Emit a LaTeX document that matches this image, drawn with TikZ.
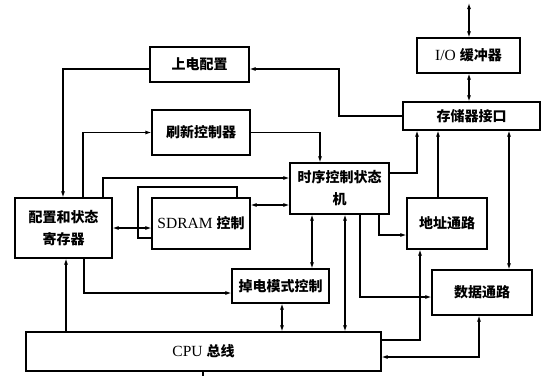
\documentclass[tikz,border=0pt]{standalone}
\usepackage{fontspec}
\setmainfont{Liberation Serif}
\newfontfamily\cjkfnt{Noto Sans CJK SC}
\usetikzlibrary{arrows.meta}
\newcommand\myzh[1]{{\fontsize{14}{22}\selectfont\cjkfnt\bfseries #1}}
\tikzset{
  box/.style={draw, line width=1.1pt, inner sep=0pt, align=center, font=\fontsize{15.5}{22}\selectfont},
  conn/.style={line width=1.1pt},
  arr/.style={conn, -{Latex[length=6pt,width=4pt]}},
  darr/.style={conn, {Latex[length=6pt,width=4pt]}-{Latex[length=6pt,width=4pt]}}
}
\begin{document}
\begin{tikzpicture}[x=1pt,y=-1pt]
\useasboundingbox (0,0) rectangle (547,376);
% boxes
\node[box, minimum width=99pt, minimum height=35pt] (pw) at (199.5,64.5) {\myzh{上电配置}};
\node[box, minimum width=98pt, minimum height=45pt] (sx) at (201,132.5) {\myzh{刷新控制器}};
\node[box, minimum width=103pt, minimum height=35pt] (io) at (468.5,55.5) {I/O \myzh{缓冲器}};
\node[box, minimum width=137pt, minimum height=28pt] (mi) at (471.5,116) {\myzh{存储器接口}};
\node[box, minimum width=99pt, minimum height=51pt] (ts) at (339.5,188.5) {\myzh{时序控制状态}\\\myzh{机}};
\node[box, minimum width=97pt, minimum height=60pt] (cfg) at (63.5,228) {\myzh{配置和状态}\\\myzh{寄存器}};
\node[box, minimum width=98pt, minimum height=51pt] (sd) at (201,223.5) {SDRAM \myzh{控制}};
\draw[conn] (sd.west |- 0,238) -- (138,238) -- (138,187) -- (237,187) -- (sd.north -| 237,0);
\node[box, minimum width=97pt, minimum height=34pt] (pd) at (280.5,286) {\myzh{掉电模式控制}};
\node[box, minimum width=80pt, minimum height=51pt] (ad) at (447,223.5) {\myzh{地址通路}};
\node[box, minimum width=100pt, minimum height=45pt] (dt) at (482,292.5) {\myzh{数据通路}};
\node[box, minimum width=355pt, minimum height=39pt] (cpu) at (203.5,351.5) {CPU \myzh{总线}};
\coordinate (topend) at (469,3);
\coordinate (botend) at (203,376);
% connectors
\draw[darr] (topend) -- (io.north -| topend);
\draw[darr] (io.south -| 469,0) -- (mi.north -| 469,0);
\draw[arr] (mi.west) -- (339,116) -- (339,69) -- (pw.east |- 0,69);
\draw[arr] (pw.west |- 0,69) -- (63,69) -- (cfg.north -| 63,0);
\draw[arr] (cfg.north -| 83,0) -- (83,132.5) -- (sx.west);
\draw[arr] (sx.east) -- (320,132.5) -- (ts.north -| 320,0);
\draw[arr] (cfg.north -| 103,0) -- (103,178) -- (ts.west |- 0,178);
\draw[darr] (cfg.east |- 0,228) -- (sd.west |- 0,228);
\draw[darr] (sd.east |- 0,205) -- (ts.west |- 0,205);
\draw[arr] (cfg.south -| 84,0) -- (84,293) -- (pd.west |- 0,293);
\draw[arr] (cpu.north -| 66,0) -- (cfg.south -| 66,0);
\draw[darr] (ts.south -| 312,0) -- (pd.north -| 312,0);
\draw[darr] (ts.south -| 345,0) -- (cpu.north -| 345,0);
\draw[darr] (pd.south -| 282,0) -- (cpu.north -| 282,0);
\draw[arr] (ts.south -| 360,0) -- (360,297) -- (dt.west |- 0,297);
\draw[arr] (ts.south -| 379,0) -- (379,235) -- (ad.west |- 0,235);
\draw[arr] (ts.east |- 0,173) -- (417,173) -- (mi.south -| 417,0);
\draw[arr] (ad.north -| 438,0) -- (mi.south -| 438,0);
\draw[darr] (mi.south -| 509,0) -- (dt.north -| 509,0);
\draw[arr] (cpu.east |- 0,340) -- (420,340) -- (ad.south -| 420,0);
\draw[darr] (dt.south -| 479,0) -- (479,357) -- (cpu.east |- 0,357);
\draw[conn] (cpu.south -| botend) -- (botend);
\end{tikzpicture}
\end{document}
